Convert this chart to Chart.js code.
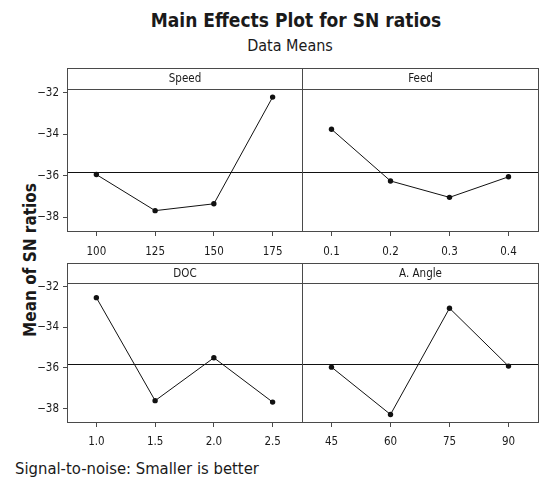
<!DOCTYPE html>
<html>
<head>
<meta charset="utf-8">
<script src="https://cdn.jsdelivr.net/npm/chart.js@4"></script>
<style>
  body { margin: 0; background: #fff; }
  #page { position: relative; width: 540px; height: 484px; overflow: hidden; background: #fff; color: #1a1a1a; }
  #page canvas { position: absolute; }
  .txt { position: absolute; white-space: nowrap; font-family: "DejaVu Sans Condensed", "DejaVu Sans", sans-serif; }
  #title { left: 0; width: 592px; top: 10.6px; text-align: center; font-size: 19px; line-height: 19px; font-weight: bold; }
  #subtitle { left: 0; width: 580px; top: 38px; text-align: center; font-size: 16px; line-height: 16px; }
  #ylabel { left: -70px; top: 249.5px; width: 200px; height: 20px; line-height: 20px; text-align: center; font-size: 17px; font-weight: bold; transform: rotate(-90deg); }
  #footer { left: 15px; top: 460.5px; font-size: 16.5px; line-height: 16px; }
</style>
</head>
<body>
<div id="page">
  <div class="txt" id="title">Main Effects Plot for SN ratios</div>
  <div class="txt" id="subtitle">Data Means</div>
  <div class="txt" id="ylabel">Mean of SN ratios</div>
  <div class="txt" id="footer">Signal-to-noise: Smaller is better</div>
  <canvas id="speedChart" width="303" height="192" style="left:0px;top:68px"></canvas>
  <canvas id="feedChart" width="237" height="192" style="left:302px;top:68px"></canvas>
  <canvas id="docChart" width="303" height="190" style="left:0px;top:263px"></canvas>
  <canvas id="angleChart" width="237" height="190" style="left:302px;top:263px"></canvas>
</div>
<script>
// Factor levels and mean SN ratios
const speedLevels = ["100", "125", "150", "175"];
const speedSN = [-35.94, -37.68, -37.35, -32.21];
const feedLevels = ["0.1", "0.2", "0.3", "0.4"];
const feedSN = [-33.76, -36.25, -37.04, -36.05];
const docLevels = ["1.0", "1.5", "2.0", "2.5"];
const docSN = [-32.54, -37.61, -35.5, -37.68];
const angleLevels = ["45", "60", "75", "90"];
const angleSN = [-35.96, -38.29, -33.06, -35.91];
const yTicks = [-38, -36, -34, -32];

// grand mean for the reference line
const allSN = [].concat(speedSN, feedSN, docSN, angleSN);
const grandMean = allSN.reduce((a, b) => a + b, 0) / allSN.length;

const frameColor = "#4a4a4a";
const tickFont = { family: "'DejaVu Sans Condensed', 'DejaVu Sans', sans-serif", size: 11.5 };

// Panel box, header strip and reference line
const panelFrame = {
  id: "panelFrame",
  beforeDatasetsDraw(chart, args, opts) {
    const { ctx, chartArea: a } = chart;
    const y = Math.round(chart.scales.y.getPixelForValue(opts.mean)) + 0.5;
    ctx.save();
    ctx.strokeStyle = "#111";
    ctx.lineWidth = 1;
    ctx.beginPath();
    ctx.moveTo(a.left, y);
    ctx.lineTo(a.right, y);
    ctx.stroke();
    ctx.restore();
  },
  afterDraw(chart, args, opts) {
    const { ctx, chartArea: a } = chart;
    const left = Math.round(a.left) + 0.5;
    const right = Math.round(a.right) + 0.5;
    const top = Math.round(a.top - opts.header) + 0.5;
    const mid = Math.round(a.top) + 0.5;
    const bottom = Math.round(a.bottom) + 0.5;
    ctx.save();
    ctx.strokeStyle = frameColor;
    ctx.lineWidth = 1;
    ctx.strokeRect(left, top, right - left, bottom - top);
    ctx.beginPath();
    ctx.moveTo(left, mid);
    ctx.lineTo(right, mid);
    ctx.stroke();
    ctx.fillStyle = "#1a1a1a";
    ctx.font = "11.5px 'DejaVu Sans Condensed', 'DejaVu Sans', sans-serif";
    ctx.textAlign = "center";
    ctx.textBaseline = "middle";
    ctx.fillText(opts.title, (left + right) / 2, (top + mid) / 2 + 0.5);
    ctx.restore();
  },
};

function makePanel(id, title, levels, values, showY, header, xHeight, xPad) {
  const ctx = document.getElementById(id).getContext("2d");
  return new Chart(ctx, {
    type: "line",
    data: {
      labels: levels,
      datasets: [
        {
          data: values,
          borderColor: "#111",
          borderWidth: 1,
          pointRadius: 2.7,
          pointBackgroundColor: "#111",
          pointBorderWidth: 0,
          tension: 0,
        },
      ],
    },
    options: {
      responsive: false,
      animation: false,
      devicePixelRatio: 1,
      layout: { autoPadding: false, padding: { top: header, right: 1, left: 0, bottom: 0 } },
      plugins: {
        legend: { display: false },
        tooltip: { enabled: false },
        panelFrame: { title: title, header: header, mean: grandMean },
      },
      scales: {
        x: {
          offset: true,
          border: { display: false },
          grid: { drawOnChartArea: false, drawTicks: true, tickLength: 5, color: frameColor },
          ticks: { font: tickFont, color: "#1a1a1a", padding: xPad, maxRotation: 0, autoSkip: false },
          afterFit: (scale) => {
            scale.height = xHeight;
          },
        },
        y: {
          display: showY,
          min: -38.66,
          max: -31.82,
          border: { display: false },
          afterBuildTicks: (scale) => {
            scale.ticks = yTicks.map((v) => ({ value: v }));
          },
          grid: { drawOnChartArea: false, drawTicks: true, tickLength: 4, color: frameColor },
          ticks: {
            font: tickFont,
            color: "#1a1a1a",
            padding: 4,
            callback: (v) => String(v).replace("-", "\u2212"),
          },
          afterFit: (scale) => {
            scale.width = showY ? 67 : 0;
          },
        },
      },
    },
    plugins: [panelFrame],
  });
}

makePanel("speedChart", "Speed", speedLevels, speedSN, true, 21, 29, 9);
makePanel("feedChart", "Feed", feedLevels, feedSN, false, 21, 29, 9);
makePanel("docChart", "DOC", docLevels, docSN, true, 20, 31, 8);
makePanel("angleChart", "A. Angle", angleLevels, angleSN, false, 20, 31, 8);
</script>
</body>
</html>
